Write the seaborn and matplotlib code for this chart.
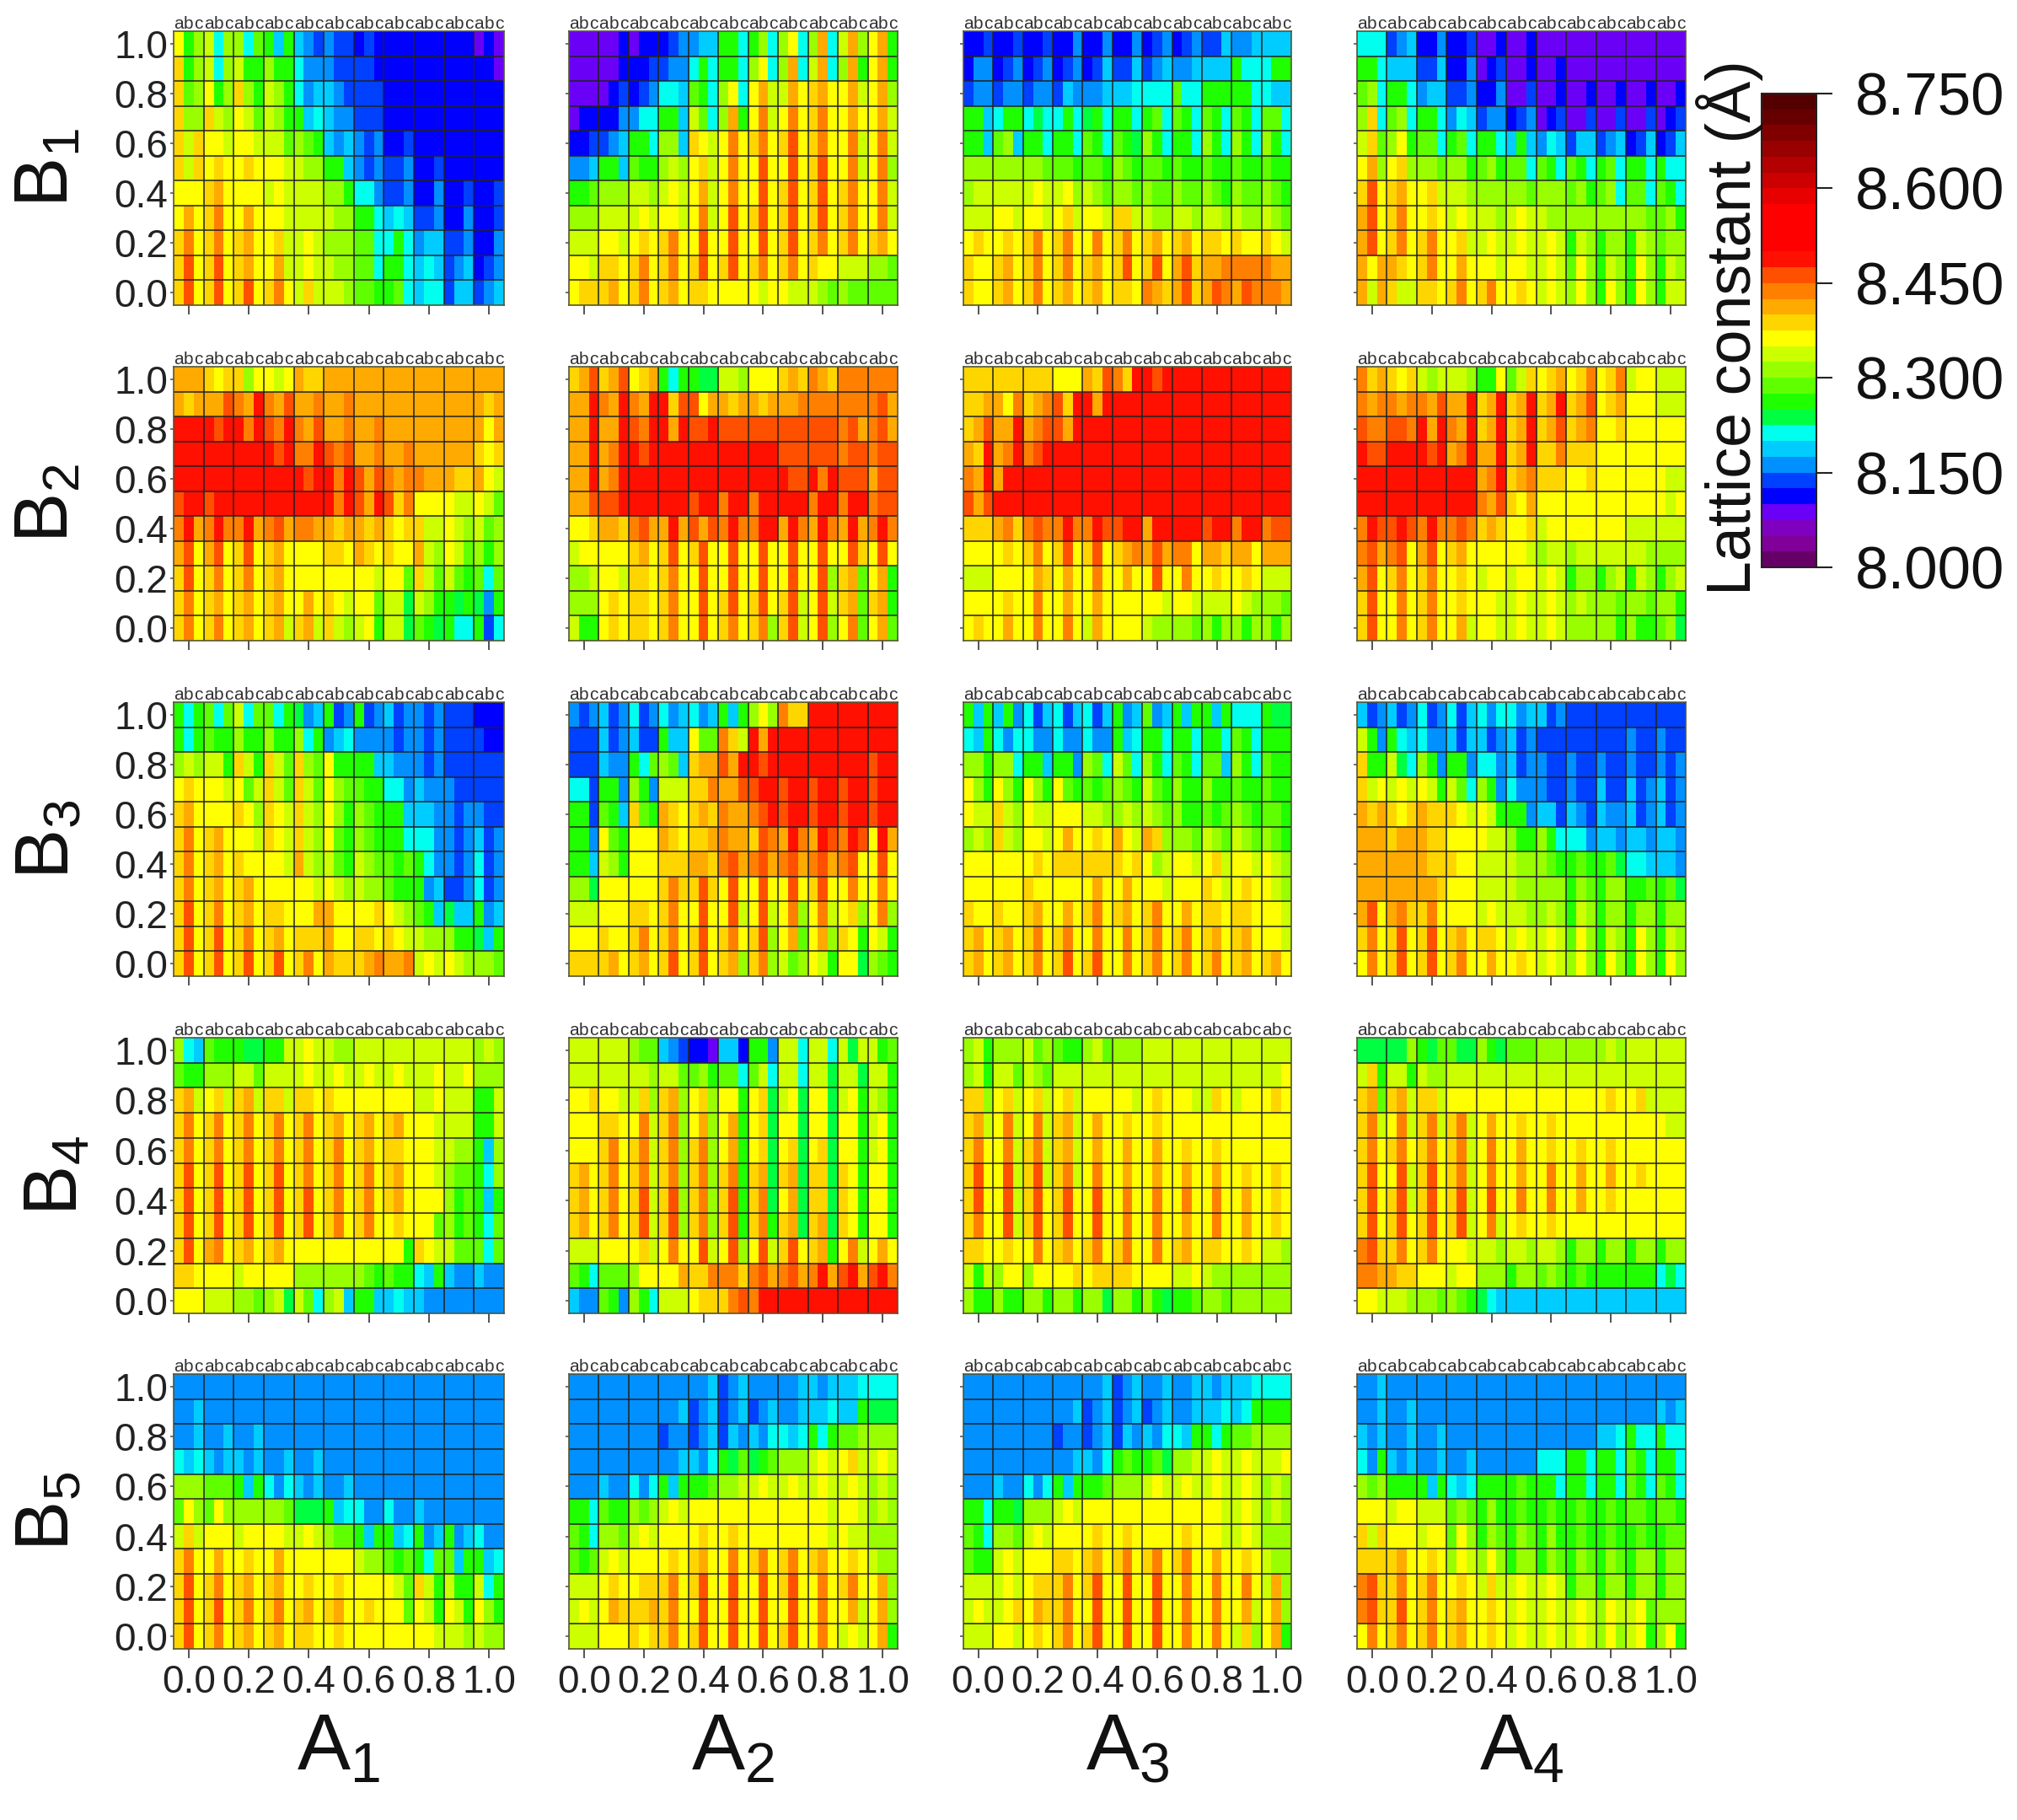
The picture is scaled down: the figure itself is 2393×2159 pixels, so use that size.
import numpy as np
import matplotlib
matplotlib.use('Agg')
import matplotlib.pyplot as plt
from matplotlib.colors import ListedColormap
import seaborn as sns

# Cell values are stored as colour-bar steps, base 30 (0 = 8.000-8.025, t = 8.725-8.750).
# Each panel: 11 rows from B = 1.0 down to 0.0, 11 groups (a, b, c) from A = 0.0 to 1.0
A1_B1 = ['eac d8c c8b a7a 765 655 454 444 444 444 343',
         'fac d8c daa caa 866 655 554 444 444 444 443',
         'fbc eac fca dca 867 765 555 444 444 444 444',
         'fcc fdc edb dca a78 766 555 444 444 444 444',
         'fdf eed eed ddb cba 767 656 445 444 444 444',
         'fdf efe efe eed dcc aa7 656 556 445 444 444',
         'eee fge eee ded ddd cca 886 556 446 445 445',
         'ege fhe ege eed ddd dcc aa8 787 556 446 445',
         'fhe fhe fge efd ded ccc bb8 8a8 677 556 446',
         'fie fie fge egd ded dcc bb8 aa8 787 567 456',
         'fie fie fie fhe dfd ddc bba ab8 788 577 567']
A2_B1 = ['333 334 344 456 677 aa8 ac8 ce8 cg8 dgc ega',
         '333 334 445 566 8a8 aa8 ce8 cg8 dg8 cga ega',
         '333 345 456 887 ba8 ce8 egd dge fge egd egc',
         '344 446 688 aa7 db8 cga ehd ehe fhe ege egd',
         '445 567 aa8 cc7 fed ehe fhe fie fhe ehd ehd',
         '667 aa7 baa cdc efd ehe eie eie fie ehd ehc',
         'aab ccc ddc ded egd ehe eie fie fie fhe ehd',
         'ccc ddd ded eed ehd eie fie fie fie fhe ehd',
         'ddd eed efe fhe eie eie eie fie fhe fhe fge',
         'eed ffe fhe fhe fie fie fhe fhe fee ddd ccb',
         'eff fge fhe fge ffe eee ede edd dcb cbb bbb']
A3_B1 = ['445 445 445 446 446 446 456 456 557 667 777',
         '466 456 456 456 457 557 567 667 777 a88 8aa',
         '566 566 566 576 667 778 888 b88 aaa aa8 877',
         'aa7 8aa 898 8a8 9a8 aa8 ab8 ba8 ba8 ba8 bb8',
         'aa7 bc7 aa8 aa8 ba8 ba9 ca8 aa8 ca8 ca8 ca8',
         'ccc ccc ccb bba bba cba bba baa baa baa baa',
         'cdd ddd ded dec dcb ccb cbb cbb cba cbb cba',
         'ddd eed eed efd eed ffd dcc ddc ddc dcc dcb',
         'efe efe fhe fhe ehe fhe fge fge ffe fee fed',
         'fee fge fhe fhe fge fie fie gif ggh hhh hgg',
         'fee fge fhe fge fge ffe hgf gif gih gih hhg']
A4_B1 = ['888 567 446 445 334 334 333 333 333 333 333',
         'aa8 777 557 446 345 334 334 333 333 333 333',
         'bc8 aa8 677 556 446 335 334 334 334 334 334',
         'cf8 bc8 aa8 687 566 456 345 335 335 335 345',
         'dfb cea bb8 ab8 aa8 7a7 687 577 567 457 457',
         'egc efc ccb cca bca bb8 ba8 ba8 ab8 aa8 a88',
         'fie fge efd ddc ccc ccb ccc bca bc8 bb8 ba8',
         'gie fhe efe ded ddc ded dcc ccc ccc ccb bca',
         'gie fhe fhe efd ded ded ded adc acc adc bcc',
         'geg gfe fhe ege eed eed ded bec adc aec adc',
         'gdg fdd ffe fhe fhe efe ded cec aec aec add']
A1_B2 = ['ggg fef fce ede gff ggg ggg ggg ggg ggg ggg',
         'gfg ggi hgj hgi ggh ggh ggg ggg ggg ggg gfg',
         'jjj jij jhj ihj hgi ggh ggh ggg ggg ggg geg',
         'jjj jjj jjj jij hhj ihi ggh ggh ggg ggg fef',
         'jjj jjj jjj jjj jij jhj igi hgh hgg gff ged',
         'ijj ijj jjj jjj jjj jhj igj ifh eee edd edb',
         'hjg hjh hjg hig hhg gfg gfg fef fdd edc dbc',
         'gie gie fie fge eee ffe gfe fee gdc edb cac',
         'fie fhe fhe fge eee eee eed eeb fdb dba b8b',
         'fhe fge fge fge ege fed eeb dd9 dca a9a 96a',
         'fhe fhe fge fgd fgd fdc dea dd9 ba9 a88 a58']
A2_B2 = ['fgi fgi efg a8a a99 ddc eee fgf hgf hhh hhh',
         'ggj hgj hgj jfi ieg gfg gfg ggh hhh hhh hig',
         'ggj ggj ihj jgj iij iii iii iii iii hig hig',
         'ggj ghj jij jjj jjj jjj jjj iii iii hii hii',
         'ggj ghj jjj jjj jjj jjj jjj jii jhj iii gii',
         'ggi iij jjj jjj ijj hjj hjj jjj hjj hjj hii',
         'eef ggf hig gjg igi hjh hjj gjh gjh gjg hjh',
         'dee eee fge fie fie eie eie eie eie eif eie',
         'ccd eed ffe fhe eie eie eie eie eic fgb ega',
         'ccc efe ffe fhe eie fie fie fid eid fgb fga',
         'daa efe ffe fhe eie fhe fhc fid eic ehb egb']
A3_B2 = ['fff fff fff eee gfi hfj jij jjj jjj jjj jjj',
         'ffg geh fgh ifj jgj jjj jjj jjj jjj jjj jjj',
         'fgi ggj ghi igj jjj jjj jjj jjj jjj jjj jjj',
         'gfj ghj hij jjj jjj jjj jjj jjj jjj jjj jjj',
         'hgj gjj jjj jjj jjj jjj jjj jjj jjj jjj jjj',
         'igi jjj jjj jjj jjj jjj jjj jjj jjj jjj jjj',
         'fff ghf hih hjh hji ijj gjj jjj ijj hjj hii',
         'eee efe fhe fie fie fgh gig hhe ggf gge ggg',
         'ddd eee egf ege ehe ege eie ehe efe efe ddd',
         'eee efe ehe ege ege eee eed eed ddd edc ccb',
         'efe ege ehe ehe dge eee dcc ccb cac cac cac']
A4_B2 = ['hfg fef dcd ddc aae bdf efg efh efh dee ddd',
         'hgh hgh hgi ggj fgj fgj fgj fgi efg eee ddd',
         'ihh iih jgj hgj fgj fgj fgi fgh eef eee eee',
         'jii jjj jij ghj ggj fgj ffh fff eee eee eee',
         'jjj jjj jjj jjj ghj fgh fff eef eee eee edd',
         'jjj jjj jjj jjj hgi feg eee eee eee eee ede',
         'hji iji hjh hih fgf eef dee eee eee ddd ddd',
         'hig hie gie fge eee eed cdd cdd ddd ddc ccc',
         'gie fhe fhe efe dee dee ded acc acd adc acd',
         'fie ehe fhe efe eed ded ded cdc ccb ccb cca',
         'fie ehe fhe egd eed ded ded ccc cca caa bc9']
A1_B3 = ['a8a b8b d8b b8a 967 a56 a56 756 656 555 444',
         'a8a baa caa caa c8a 678 666 656 656 555 544',
         'cdc dda fda fdb fcb eaa aa7 766 656 555 555',
         'efe eed ebd fdb fdb ecb baa 886 766 655 555',
         'fge eee fec fed fdc eca cba aa7 776 656 655',
         'fhe fge eed fed fdc eba cba aa8 886 656 756',
         'fhe fge fee eed gdc dba dcb bab a86 656 856',
         'fhe fge fge eee eed edc dcc baa a67 556 856',
         'fie fhe fge ffe eeg gee eef edc ba7 977 a67',
         'fie fie fhe fge fff gee ffe fed dcc caa 97a',
         'fie fie fie fie fhe gff fgh ggh ded edc ccb']
A2_B3 = ['656 756 856 867 867 a7a cec hff jjj jjj jjj',
         '555 756 755 a77 ebb hfd jgj jjj jjj jjj jjj',
         '555 766 a8b cb7 fgg igj jij jjj jjj jjj ijj',
         '885 aa6 ca6 ddd ffh ggi ijj ijj ijj ijj ijj',
         'aa5 ba7 fba gfe fgf hgg hij ijj ijj ijj ijj',
         'aa6 eba eee gfe ffg hgg fih gjh gji hji ejg',
         'aa7 dca eee fff ggf hig hig hig hig hie eie',
         'cc9 eee eee fhf fif eie eie eie fie ehe ehe',
         'ddd eee ffe fhe eie eid eid ehc ehd efc ehc',
         'eee fee fhe fhe fie fhe fic egb egc fea eda',
         'fff fge fge fie fie fgc fhc dbc eda ee9 cba']
A3_B3 = ['a7a 7a6 857 857 857 a67 b67 a7a a7a 888 a99',
         '87a 868 866 866 866 a78 aa8 aa8 aa8 ba8 aaa',
         'cca cc8 aa7 aa6 cb8 db8 ca8 ba8 bb7 ca8 baa',
         'eca eca eca eba bab cba dba caa caa baa baa',
         'edd fdc edd eee ddc cdc dcb caa bab cba bba',
         'cdc fdc eed ege efe ged gfc ccb dcb dcb cba',
         'eee eee efe fff fff fef ecd eed efd eed edc',
         'eee eee fee eee ege ege eed eee fed efe edc',
         'fee fee fge ege fhe fge fhe ege ffe ffe eed',
         'fge fge fhe fhe ehe ehe fhe fhe fge fge eed',
         'fge fge fhe fie fie ehe fhe fhe fhe fge fge']
A4_B3 = ['756 756 856 857 868 867 756 555 555 555 555',
         'da6 a87 866 757 756 756 555 555 555 655 655',
         'faa d98 ca6 aa6 886 756 655 655 655 655 656',
         'fde ded eda db8 ca6 866 655 655 755 756 756',
         'gfg fef gff fed eda aa6 775 765 766 756 756',
         'ggg fgg gff eee edd caa ca8 886 776 776 776',
         'ggg ggg gff fee ddd dcc cba aba ab9 887 776',
         'ggg ggg ggf eee ddd dcc ccc acb acc aab ab9',
         'gie ghf fhe eee ded ddc cdc adc acc acc acc',
         'fhe fie fie fge ffe ded ded bec adc aec adc',
         'ehe fie fie fhe ege efe ded cec aec aec aec']
A1_B4 = ['c87 baa a99 aad ded dcc ddd ddd ddd ddd cdc',
         'baa ccc ddb ddd ded ded ded ded dde dde ccc',
         'fgd efd fgd ffd ffe fee eee eee dde ddd aad',
         'fhe fhe fhe fhe fhe fge fge fge eed ddd aad',
         'fhe fhe fhe fhe fhe fhe fge ffe eed dcc a7c',
         'fie fie fie fie fhe fhe fhe fge eed cbb a8c',
         'fie fie fie fie fie fhe fhe fge eee cab a7a',
         'fie fie fie fie fie fhe fhe efe eeb cab a8b',
         'fie ghe fge fge eee eee eee eea fed dbb b8b',
         'ffe eee dee eee ccc ccc cba baa 87a 766 766',
         'eee ddd ccb cd9 db8 cd7 aa7 787 766 666 666']
A2_B4 = ['ddd ddd cbb 765 443 774 aa6 dd8 dd8 d9d dab',
         'ddd ddd ddc ddb bca bb8 bd8 dd8 dd9 dd9 dda',
         'eef eed dfc fgc efc eea ef9 de9 ee9 dea dca',
         'eee ffe ehd fhc egc ega ef9 ee9 ee9 eea dea',
         'eee fhe fhd fhc fhc ega ef9 ef9 ef9 eea dea',
         'fge fhe fhd fhc fhc fha fg9 fg9 ff9 fea eea',
         'fge fhe fid fic fhc fia fh9 eg9 ff9 fea eea',
         'fge fhe fid fic fhc fia fha fg9 fg9 fea eea',
         'ddd eee efd ehe eid eic eid fie fga ehd ege',
         'ba8 bbb cee eeg ffh hhf hig hig hjg ijg ijh',
         '766 ba6 ca8 ddd eff fhi hjj jjj jjj jjj jjj']
A3_B4 = ['cda ccc dbc baa cdb ccc ddd ddd ddd ddd ddd',
         'cda ddb dcb ddd ddd ddd ddd ddd ddd ddd dde',
         'ffc efd efd efd eee eed efe eed dfe dee efe',
         'fgd ehd ehd fgd ege efe efe eee eee eee eee',
         'fhe ehd fhd fgd ege ege ege efe efe eee eee',
         'fie eid fid fhd ehe ege ege ege ege efe efe',
         'fie eid fie fie eie ehe ehe ehe ehe ege efe',
         'fhe eid fie fie eie ehe ehe ege ehe ege efe',
         'ffe efe ehe fge fhe fhe ehe fge ffe efe ddc',
         'dad cee cee eef eff ffe eee dde dcc ccc ccc',
         'caa caa cca cca cc9 cca ca9 aab ccb ccc ccc']
A4_B4 = ['999 99c a9b b99 ca9 bbb ccc ccc cdc ddd ddd',
         'dfa dda dcc ddd ddd ddd ddd ddd ddd ddd ddd',
         'fgb fgd ffd eee eee eee eee eee efe efd ddd',
         'fhd ehd fhd fhd ege efe efe eee eee eee edd',
         'fhe fhe fhe fhd ehe ege efe efe efe eee eee',
         'fie eid fie fhd ehe ege ehe ege ege efe eee',
         'fie fid fie fid eie ehe ehe ege efe eee eee',
         'fie fie fie fid ehd efe efe eee eee eee eee',
         'hif fhe fhe eed ddc ddc ddc acc acc acc acc',
         'hhg gff eee dee ccc acc bcb aba aaa aaa 898',
         'eed ddc ccb cba 987 777 777 777 777 777 777']
A1_B5 = ['666 666 666 666 666 666 666 666 666 666 666',
         '667 666 666 666 666 666 666 666 666 666 666',
         '667 667 667 666 666 666 666 666 666 666 666',
         '878 767 767 667 667 666 666 666 666 666 666',
         'ccc bbb a7a 868 767 667 666 666 666 666 666',
         'bec bec ccc ccb 999 a78 866 866 766 666 666',
         'dfd eee dee eed ded cbb a7a a78 a67 a67 866',
         'fhe ege efe ege eee eee dcc bab a8b b7a a78',
         'fie fhe fge fge efe efe eee edb fda daa d8a',
         'fie fie fhe fhe fge fge efe eeb eda eda eca',
         'fie fhe fge fge ffe efe eee eee eed ddc dcc']
A2_B5 = ['666 666 666 666 667 567 666 667 767 778 888',
         '666 666 666 667 567 567 567 667 778 77a 999',
         '666 666 666 566 567 576 768 878 a8a bbc ccc',
         '666 666 666 667 768 a9b 9ab ccc ded efd ded',
         '666 766 868 a7a aab ccd ded ded ded ded cdc',
         'aa8 baa cbc ded eee eee eee eee eed eed cdc',
         'ba8 ccb ded eee efe efe eee eee eed edd ccc',
         'bab ded eee efe fge ehe fhe fhe fge efe dcc',
         'ddd efe eff fhe fie eie eie fie ehe fhe egc',
         'ded egf ffg fhe eie eie eie eie ehe egd egc',
         'ddd eee fef fhe fie eie eie fie ehe ded ega']
A3_B5 = ['666 666 666 666 667 567 667 667 767 778 888',
         '666 666 666 667 567 567 567 667 778 78a aaa',
         '666 666 666 566 567 576 768 87a a8a bbc ccc',
         '666 666 666 667 768 aba ab9 ccd ded ded dde',
         '666 766 868 a7a aab ccc ded ded ded ded cdc',
         'aa8 aa9 ccc ded eee eee eee eee eed ded cdc',
         'ba8 ccb ded eee efe efe eee efe eed ded ccc',
         'baa ded eee ffe fge fhe fhe fhe ege efe dcc',
         'ddd ded eff fhe fie eie eie ehe ehe ehe dgc',
         'ded def egf fhe eie eie eie ehe ehe egd egc',
         'ddd eed efe fhe fie eie eie ehe ehe dfc ega']
A4_B5 = ['667 666 666 666 666 666 666 666 666 666 666',
         '667 667 666 666 666 666 666 666 666 666 767',
         '767 667 667 666 666 666 666 666 778 a88 a88',
         '86a 767 667 667 666 666 888 aa8 aa8 ba8 aa8',
         'cbc aaa a7a 878 aaa aba aa8 aa8 aa8 ba8 ba8',
         'eee dee ddd bcb aca aba aba aba aba bba bba',
         'fdf eee dee bec acb acb aca aba aba aba abb',
         'fff fge efe ced cec acc acb acb acb acc acc',
         'hif fhe fhe efe dfd ded ded acc acc acc acc',
         'hif fie fhe fge efe ded ded ded ced deb ccc',
         'ehe fhe fhe fge efe ded ded ded cec dea cea']

tick_values = ['0.0', '0.2', '0.4', '0.6', '0.8', '1.0']
bar_ticks = [8.0, 8.15, 8.3, 8.45, 8.6, 8.75]
bar_tick_labels = ['8.000', '8.150', '8.300', '8.450', '8.600', '8.750']
a_names = ['A_1', 'A_2', 'A_3', 'A_4']
b_names = ['B_1', 'B_2', 'B_3', 'B_4', 'B_5']
panels = [[A1_B1, A2_B1, A3_B1, A4_B1],
          [A1_B2, A2_B2, A3_B2, A4_B2],
          [A1_B3, A2_B3, A3_B3, A4_B3],
          [A1_B4, A2_B4, A3_B4, A4_B4],
          [A1_B5, A2_B5, A3_B5, A4_B5]]

# the colour bar has 30 flat steps
step_colors = ['#660066', '#800099', '#8000c0', '#6a00f5', '#0000ff', '#0040ff',
               '#0090ff', '#00ccff', '#00ffee', '#00ff40', '#20ff00', '#60ff00',
               '#99ff00', '#ccff00', '#ffff00', '#ffd500', '#ffaa00', '#ff8000',
               '#ff5000', '#ff1000', '#ff0000', '#ff0000', '#ff0000', '#e60000',
               '#cc0000', '#b30000', '#990000', '#800000', '#660000', '#550000']

sns.set_theme(style='ticks')
plt.rcParams['font.family'] = 'Liberation Sans'
plt.rcParams['mathtext.default'] = 'regular'

W, H = 2393, 2159
fig = plt.figure(figsize=(W / 100, H / 100), dpi=100, facecolor='white')
cmap = ListedColormap(step_colors)


def add_axes_px(x0, y0, x1, y1):
    return fig.add_axes([x0 / W, 1 - y1 / H, (x1 - x0) / W, (y1 - y0) / H])


def to_values(rows):
    steps = [[int(c, 30) for c in r.replace(' ', '')] for r in rows]
    return 8.0 + 0.025 * (np.array(steps) + 0.5)


lefts = [206, 675, 1143, 1610]
rights = [598, 1065, 1532, 2000]
tops = [37, 435, 833, 1231, 1630]
bottoms = [362, 760, 1158, 1558, 1956]

for i, row in enumerate(panels):
    for j, rows in enumerate(row):
        ax = add_axes_px(lefts[j], tops[i], rights[j], bottoms[i])
        sns.heatmap(to_values(rows), ax=ax, cmap=cmap, vmin=8.0, vmax=8.75, cbar=False,
                    xticklabels=False, yticklabels=False, rasterized=True)
        # grid: every row, and every (a, b, c) group
        ax.hlines(np.arange(1, 11), 0, 33, color='#222222', lw=1.1)
        ax.vlines(np.arange(3, 33, 3), 0, 11, color='#222222', lw=1.1)
        for spine in ax.spines.values():
            spine.set_visible(True)
            spine.set_color('#555533')
            spine.set_linewidth(1.2)
        ax.set_xticks(np.arange(1.5, 33, 6))
        ax.set_yticks(np.arange(0.5, 11, 2))
        ax.tick_params(axis='x', length=8, width=1.3, color='#444444', pad=5,
                       labelsize=33, labelcolor='#222222')
        ax.tick_params(axis='y', length=3, width=1.3, color='#666666', pad=2,
                       labelsize=33, labelcolor='#222222', rotation=0)
        ax.set_xticklabels(tick_values if i == 4 else [])
        ax.set_yticklabels(tick_values[::-1] if j == 0 else [])
        for k in range(33):
            ax.text(k + 0.5, 0.02, 'abc'[k % 3], ha='center', va='bottom',
                    fontsize=15, color='#333333')

for j, name in enumerate(a_names):
    fig.text((lefts[j] + rights[j]) / 2 / W, 1 - 2075 / H, f'${name}$',
             ha='center', va='center', fontsize=68, color='#111111')
b_x = [58, 58, 58, 69, 58]
for i, name in enumerate(b_names):
    fig.text(b_x[i] / W, 1 - (tops[i] + bottoms[i]) / 2 / H, f'${name}$', rotation=90,
             ha='center', va='center', fontsize=64, color='#111111')

# colour bar
cax = add_axes_px(2090, 111, 2155, 673)
norm = plt.Normalize(8.0, 8.75)
cb = fig.colorbar(plt.cm.ScalarMappable(norm=norm, cmap=cmap), cax=cax, ticks=bar_ticks)
cb.ax.set_yticklabels(bar_tick_labels)
cb.ax.tick_params(length=14, width=1.5, color='#222222', pad=19, labelsize=51, labelcolor='#111111')
cb.outline.set_edgecolor('#222222')
cb.outline.set_linewidth(1.5)
fig.text(2052 / W, 1 - 389 / H, 'Lattice constant (Å)', rotation=90, ha='center', va='center',
         fontsize=53, color='#111111')

fig.savefig('out.png', dpi=100, facecolor='white')
